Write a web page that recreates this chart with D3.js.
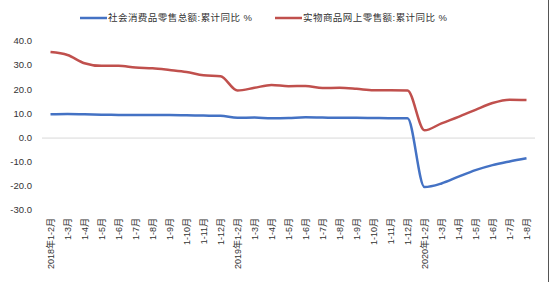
<!DOCTYPE html>
<html><head><meta charset="utf-8">
<script src="https://cdn.jsdelivr.net/npm/d3@7"></script>
<style>body{margin:0;background:#fff}svg{display:block}</style>
</head><body>
<svg id="c" width="550" height="282"></svg>
<script>
const categories = ["2018年1-2月","1-3月","1-4月","1-5月","1-6月","1-7月","1-8月","1-9月","1-10月","1-11月","1-12月",
"2019年1-2月","1-3月","1-4月","1-5月","1-6月","1-7月","1-8月","1-9月","1-10月","1-11月","1-12月",
"2020年1-2月","1-3月","1-4月","1-5月","1-6月","1-7月","1-8月"];
const retailTotal = [9.7,9.8,9.7,9.5,9.4,9.3,9.3,9.3,9.2,9.1,9.0,
8.2,8.3,8.0,8.1,8.4,8.3,8.2,8.2,8.1,8.0,8.0,
-20.5,-19.0,-16.2,-13.5,-11.4,-9.9,-8.6];
const onlineGoods = [35.4,34.2,30.8,29.7,29.8,29.0,28.7,28.0,27.2,25.8,25.4,
19.5,20.6,21.8,21.3,21.4,20.5,20.6,20.2,19.6,19.6,19.5,
3.0,5.9,8.6,11.5,14.3,15.7,15.6];
const yTicks = [-30,-20,-10,0,10,20,30,40];
const seriesNames = ["社会消费品零售总额:累计同比 %","实物商品网上零售额:累计同比 %"];
const colors = ["#4472C4","#C0504D"];

const svg = d3.select("#c");
const font = "'Liberation Sans','Noto Sans CJK SC',sans-serif";
const x = d3.scaleBand().domain(d3.range(categories.length)).range([42,535]);
const y = d3.scaleLinear().domain([-30,40]).range([210,41]);

// y labels
svg.append("g").selectAll("text").data(yTicks).join("text")
  .attr("x",32).attr("y",d=>y(d)).attr("dy","0.35em").attr("text-anchor","end")
  .attr("font-family",font).attr("font-size",9.5).attr("fill","#333")
  .text(d=>d.toFixed(1));

// zero line
svg.append("line").attr("x1",42).attr("x2",535).attr("y1",y(0)+0.5).attr("y2",y(0)+0.5)
  .attr("stroke","#d9d9d9").attr("stroke-width",1);

// x labels
svg.append("g").selectAll("text").data(categories).join("text")
  .attr("transform",(d,i)=>`translate(${x(i)+x.bandwidth()/2+3},218) rotate(-90)`)
  .attr("text-anchor","end")
  .attr("font-family",font).attr("font-size",9).attr("fill","#333")
  .text(d=>d);

const line = d3.line().x((d,i)=>x(i)+x.bandwidth()/2).y(d=>y(d)).curve(d3.curveMonotoneX);
[retailTotal, onlineGoods].forEach((s,k)=>{
  svg.append("path").datum(s).attr("d",line).attr("fill","none")
    .attr("stroke",colors[k]).attr("stroke-width",2.5).attr("stroke-linejoin","round");
});

// legend
const lx = [80,275];
seriesNames.forEach((n,k)=>{
  svg.append("line").attr("x1",lx[k]).attr("x2",lx[k]+27).attr("y1",18).attr("y2",18)
    .attr("stroke",colors[k]).attr("stroke-width",2.5);
  svg.append("text").attr("x",lx[k]+28).attr("y",18).attr("dy","0.35em")
    .attr("font-family",font).attr("font-size",9.5).attr("letter-spacing",0.45)
    .attr("fill","#333").text(n);
});

// right frame edge
svg.append("line").attr("x1",548.5).attr("x2",548.5).attr("y1",0).attr("y2",282)
  .attr("stroke","#555").attr("stroke-width",1);
</script>
</body></html>
